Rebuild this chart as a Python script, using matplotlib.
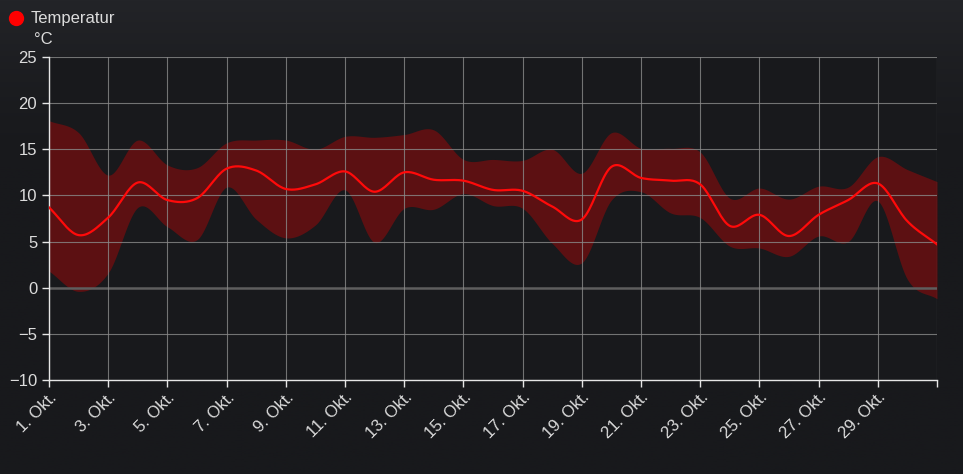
import numpy as np
import matplotlib
matplotlib.use("Agg")
import matplotlib.pyplot as plt
from matplotlib.lines import Line2D

plt.rcParams["font.family"] = ["Liberation Sans", "DejaVu Sans"]

# ---------------------------
# Data
# ---------------------------
days = list(range(1, 32))
temp_mean = [8.7, 5.7, 7.6, 11.4, 9.5, 9.7, 12.9, 12.7, 10.7, 11.2,
             12.6, 10.4, 12.5, 11.7, 11.6, 10.6, 10.5, 8.8, 7.4, 13.1,
             11.9, 11.6, 11.2, 6.7, 7.9, 5.6, 7.9, 9.5, 11.3, 7.2, 4.7]
temp_max = [18.1, 16.8, 12.2, 16.0, 13.3, 13.0, 15.7, 16.0, 16.0, 15.0,
            16.4, 16.3, 16.6, 17.1, 13.9, 13.9, 13.8, 15.0, 12.4, 16.8,
            15.1, 15.1, 14.7, 9.7, 10.8, 9.6, 11.0, 10.9, 14.2, 12.8, 11.5]
temp_min = [1.8, -0.4, 1.6, 8.7, 6.6, 5.2, 10.9, 7.4, 5.4, 6.8,
            10.6, 4.9, 8.6, 8.5, 10.2, 8.9, 8.6, 4.8, 2.7, 9.5,
            10.4, 8.1, 7.6, 4.5, 4.3, 3.4, 5.6, 5.0, 9.4, 0.9, -1.2]
tick_days = list(range(1, 31, 2))
tick_labels = [f"{d}. Okt." for d in tick_days]
y_ticks = [-10, -5, 0, 5, 10, 15, 20, 25]

BG = "#18191c"
TXT = "#dcdcdc"


# ---------------------------
# Smooth curve (Catmull-Rom style hermite)
# ---------------------------
def smooth(x, y, n=20):
    x = np.asarray(x, float)
    y = np.asarray(y, float)
    m = np.zeros_like(y)
    m[1:-1] = (y[2:] - y[:-2]) / (x[2:] - x[:-2])
    m[0] = (y[1] - y[0]) / (x[1] - x[0])
    m[-1] = (y[-1] - y[-2]) / (x[-1] - x[-2])
    xs, ys = [], []
    for i in range(len(x) - 1):
        h = x[i + 1] - x[i]
        t = np.linspace(0, 1, n, endpoint=False)
        h00 = 2 * t**3 - 3 * t**2 + 1
        h10 = t**3 - 2 * t**2 + t
        h01 = -2 * t**3 + 3 * t**2
        h11 = t**3 - t**2
        xs.append(x[i] + t * h)
        ys.append(h00 * y[i] + h10 * h * m[i] + h01 * y[i + 1] + h11 * h * m[i + 1])
    xs.append([x[-1]])
    ys.append([y[-1]])
    return np.concatenate(xs), np.concatenate(ys)


fig = plt.figure(figsize=(9.63, 4.74), dpi=100, facecolor=BG)

# soft lighter glow at the top of the background
bg_ax = fig.add_axes([0, 0, 1, 1], zorder=-10)
grad = np.linspace(0, 1, 200)[:, None]
glow = np.clip(1 - grad / 0.35, 0, 1) ** 1.5
img = np.zeros((200, 2, 3))
base = np.array([24, 25, 28]) / 255
top = np.array([35, 36, 40]) / 255
img[:] = base + (top - base) * glow[:, :, None]
bg_ax.imshow(img, aspect="auto", extent=[0, 1, 0, 1])
bg_ax.axis("off")

ax = fig.add_axes([49 / 963, 1 - 380 / 474, (937 - 49) / 963, (380 - 57) / 474])
ax.set_facecolor(BG)

xs, ys_max = smooth(days, temp_max)
_, ys_min = smooth(days, temp_min)
_, ys_mean = smooth(days, temp_mean)

ax.fill_between(xs, ys_min, ys_max, color="#5c1012", lw=0, zorder=1)
ax.plot(xs, ys_mean, color="#ff0a0a", lw=1.6, zorder=3)

ax.set_xlim(1, 31)
ax.set_ylim(-10, 25)
ax.set_yticks(y_ticks)
ax.set_yticklabels([str(v).replace("-", "\u2212") for v in y_ticks])
ax.set_xticks(tick_days + [31])
ax.set_xticklabels(tick_labels + [""])

for v in y_ticks:
    if v == 0:
        ax.axhline(v, color="#5e5e5e", lw=1.8, zorder=2)
    else:
        ax.axhline(v, color="#8a8a8a", lw=0.8, alpha=0.8, zorder=2)
for d in tick_days + [31]:
    ax.axvline(d, color="#8a8a8a", lw=0.8, alpha=0.8, zorder=2)

for side in ("top", "right"):
    ax.spines[side].set_visible(False)
for side in ("left", "bottom"):
    ax.spines[side].set_color("#e6e6e6")
    ax.spines[side].set_linewidth(1.0)

ax.tick_params(axis="both", colors="#e6e6e6", length=5, width=1, labelcolor=TXT,
               labelsize=12)
ax.tick_params(axis="x", pad=2)
plt.setp(ax.get_xticklabels(), rotation=45, ha="right", rotation_mode="anchor",
         fontsize=12)

# legend + unit label
fig.text(31 / 963, 1 - 18 / 474, "Temperatur", color=TXT, fontsize=12, va="center")
fig.add_artist(Line2D([16 / 963], [1 - 18 / 474], marker="o", markersize=10,
                      color="#ff0000", transform=fig.transFigure))
fig.text(34 / 963, 1 - 40 / 474, "°C", color=TXT, fontsize=12, va="center")

fig.savefig("out.png", dpi=100, facecolor=BG)
